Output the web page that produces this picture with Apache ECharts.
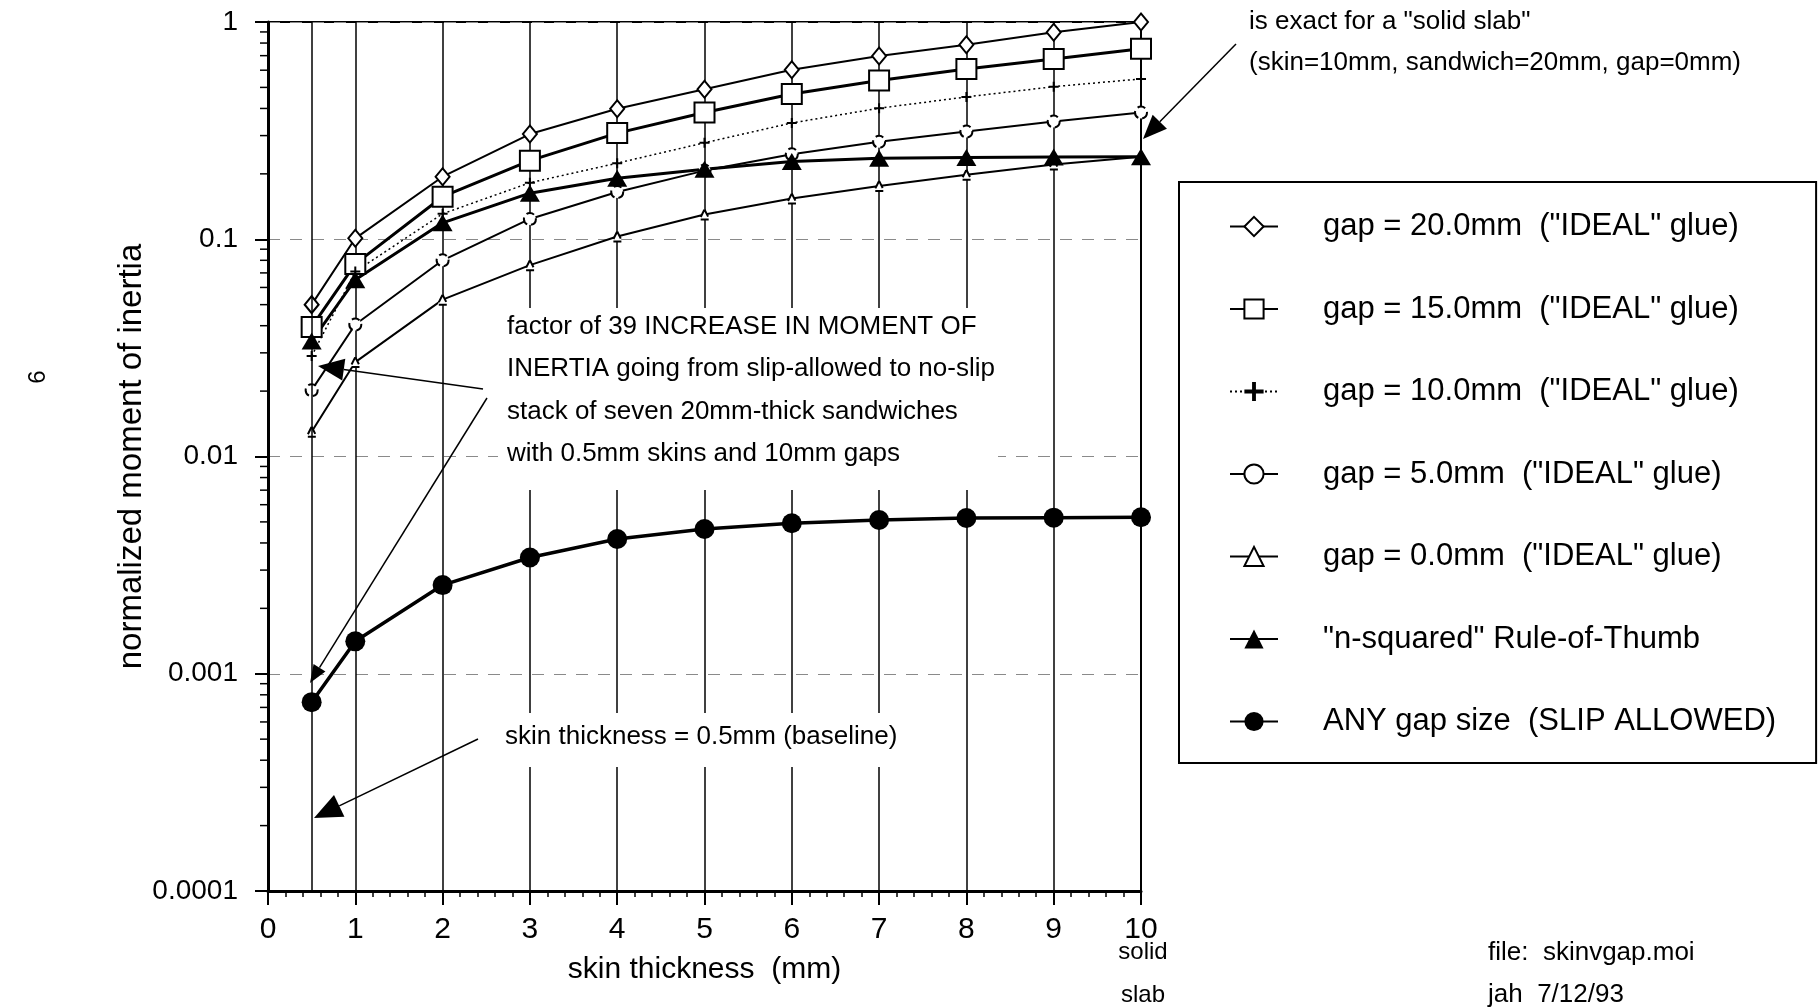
<!DOCTYPE html>
<html>
<head>
<meta charset="utf-8">
<title>skin thickness vs normalized moment of inertia</title>
<script src="https://cdn.jsdelivr.net/npm/echarts@6/dist/echarts.min.js"></script>
<style>
  html, body { margin: 0; padding: 0; background: #fff; }
  #chart { width: 1820px; height: 1007px; }
</style>
</head>
<body>
<div id="chart"></div>
<script>
// skin thickness (mm), 10 = solid slab
const skin = [0.5, 1, 2, 3, 4, 5, 6, 7, 8, 9, 10]

// normalized moment of inertia
const gap20 = [0.050, 0.101, 0.194, 0.305, 0.399, 0.49, 0.603, 0.697, 0.786, 0.897, 1.0]
const gap15 = [0.0395, 0.077, 0.157, 0.230, 0.308, 0.383, 0.466, 0.538, 0.607, 0.676, 0.754]
const gap10 = [0.029, 0.071, 0.131, 0.182, 0.224, 0.278, 0.343, 0.401, 0.452, 0.504, 0.547]
const gap5 = [0.0202, 0.0405, 0.080, 0.124, 0.165, 0.207, 0.246, 0.281, 0.313, 0.348, 0.383]
const gap0 = [0.013, 0.0272, 0.0527, 0.076, 0.103, 0.130, 0.154, 0.176, 0.198, 0.221, 0.240]
const nSquared = [0.0340, 0.0651, 0.119, 0.163, 0.191, 0.210, 0.228, 0.236, 0.238, 0.239, 0.240]
const slipAllowed = [0.00074, 0.00141, 0.00256, 0.00343, 0.00417, 0.00464, 0.00493, 0.0051, 0.00521, 0.00523, 0.00525]

const seriesNames = [
  'gap = 20.0mm  ("IDEAL" glue)',
  'gap = 15.0mm  ("IDEAL" glue)',
  'gap = 10.0mm  ("IDEAL" glue)',
  'gap = 5.0mm  ("IDEAL" glue)',
  'gap = 0.0mm  ("IDEAL" glue)',
  '"n-squared" Rule-of-Thumb',
  'ANY gap size  (SLIP ALLOWED)'
]
const yTickLabels = ['0.0001', '0.001', '0.01', '0.1', '1']

const FONT = '"Liberation Sans", Arial, Helvetica, sans-serif'

function pairs(vals) {
  return skin.map(function(s, i) { return [s, vals[i]] })
}

function arrow(x1, y1, x2, y2, len, half, lw) {
  const a = Math.atan2(y2 - y1, x2 - x1)
  const bx = x2 - len * Math.cos(a)
  const by = y2 - len * Math.sin(a)
  return [
    { type: 'line', z: 10, shape: { x1: x1, y1: y1, x2: bx, y2: by }, style: { stroke: '#000', lineWidth: lw } },
    { type: 'polygon', z: 10, shape: { points: [[x2, y2],
      [bx - half * Math.sin(a), by + half * Math.cos(a)],
      [bx + half * Math.sin(a), by - half * Math.cos(a)]] }, style: { fill: '#000' } }
  ]
}

function note(text, x, y, size, align) {
  return {
    type: 'text', z: 11,
    style: { text: text, x: x, y: y, font: size + 'px ' + FONT, fill: '#000',
      textAlign: align || 'left', textVerticalAlign: 'middle' }
  }
}

const plus = 'path://M4,0H6V4H10V6H6V10H4V6H0V4H4Z'

function lineSeries(name, vals, opts) {
  return Object.assign({
    name: name,
    type: 'line',
    data: pairs(vals),
    color: '#000',
    symbolKeepAspect: true,
    z: 3
  }, opts)
}

const chart = echarts.init(document.getElementById('chart'), null, { renderer: 'canvas' })

chart.setOption({
  animation: false,
  backgroundColor: '#fff',
  textStyle: { fontFamily: FONT, color: '#000' },
  grid: {
    left: 268, right: 679, top: 22, bottom: 116,
    show: true, borderColor: '#000', borderWidth: 2, backgroundColor: 'transparent'
  },
  xAxis: {
    type: 'value', min: 0, max: 10, interval: 1,
    name: 'skin thickness  (mm)', nameLocation: 'middle', nameGap: 64,
    nameTextStyle: { fontSize: 30, color: '#000', fontFamily: FONT },
    axisLine: { lineStyle: { color: '#000', width: 3 } },
    axisTick: { length: 14, lineStyle: { color: '#000', width: 2 } },
    minorTick: { show: true, splitNumber: 5, length: 6, lineStyle: { color: '#000', width: 1.5 } },
    axisLabel: { fontSize: 30, color: '#000', margin: 24, fontFamily: FONT },
    splitLine: { show: true, lineStyle: { color: '#000', width: 1.5 } }
  },
  yAxis: {
    type: 'log', logBase: 10, min: 0.0001, max: 1,
    name: 'normalized moment of inertia', nameLocation: 'middle', nameGap: 118,
    nameTextStyle: { fontSize: 33, color: '#000', fontFamily: FONT },
    axisLine: { lineStyle: { color: '#000', width: 3 } },
    axisTick: { length: 13, lineStyle: { color: '#000', width: 2 } },
    axisLabel: {
      fontSize: 28, color: '#000', margin: 30, fontFamily: FONT,
      formatter: function(v, i) { return yTickLabels[i] }
    },
    splitLine: { show: true, lineStyle: { color: '#8a8a8a', width: 1.2, type: [12, 10] } }
  },
  legend: {
    orient: 'vertical',
    left: 1179, top: 182,
    padding: [29, 40, 26, 50],
    itemWidth: 48, itemHeight: 24, itemGap: 51.5,
    borderColor: '#000', borderWidth: 2,
    selectedMode: false,
    textStyle: { fontSize: 31, color: '#000', fontFamily: FONT, padding: [0, 0, 0, 40] },
    data: seriesNames
  },
  series: [
    lineSeries(seriesNames[0], gap20, {
      symbol: 'emptyDiamond', symbolSize: [14, 17],
      lineStyle: { width: 2 }, itemStyle: { borderWidth: 1.5 },
      markLine: {
        silent: true, symbol: 'none', label: { show: false },
        lineStyle: { color: '#000', width: 1.5, type: 'solid' },
        data: [{ xAxis: skin[0] }]
      }
    }),
    lineSeries(seriesNames[1], gap15, {
      symbol: 'emptyRect', symbolSize: 20,
      lineStyle: { width: 3 }, itemStyle: { borderWidth: 2 }
    }),
    lineSeries(seriesNames[2], gap10, {
      symbol: plus, symbolSize: 10,
      lineStyle: { width: 1.5, type: [2, 3] }
    }),
    lineSeries(seriesNames[3], gap5, {
      symbol: 'emptyCircle', symbolSize: 12,
      lineStyle: { width: 2 }, itemStyle: { borderWidth: 1.2, borderType: 'dashed' }
    }),
    lineSeries(seriesNames[4], gap0, {
      symbol: 'emptyTriangle', symbolSize: 10,
      lineStyle: { width: 2 }, itemStyle: { borderWidth: 1.2, borderType: 'dashed' }
    }),
    lineSeries(seriesNames[5], nSquared, {
      symbol: 'triangle', symbolSize: [20, 17],
      lineStyle: { width: 3 }
    }),
    lineSeries(seriesNames[6], slipAllowed, {
      symbol: 'circle', symbolSize: 20,
      lineStyle: { width: 3.5 }
    })
  ]
})

// log minor ticks (2..9 in each decade), placed through the y axis scale
const axisX = chart.convertToPixel({ xAxisIndex: 0 }, 0)
const minorTicks = []
for (let d = -4; d < 0; d++) {
  for (let k = 2; k <= 9; k++) {
    const py = chart.convertToPixel({ yAxisIndex: 0 }, k * Math.pow(10, d))
    minorTicks.push({ type: 'line', z: 5, shape: { x1: axisX - 8, y1: py, x2: axisX, y2: py },
      style: { stroke: '#000', lineWidth: 1.5 } })
  }
}

chart.setOption({
  graphic: {
    elements: [
      // white blocks behind the notes break the grid lines, as in the original
      { type: 'rect', z: 1, shape: { x: 498, y: 308, width: 500, height: 182 }, style: { fill: '#fff' } },
      { type: 'rect', z: 1, shape: { x: 498, y: 713, width: 412, height: 54 }, style: { fill: '#fff' } },
      note('factor of 39 INCREASE IN MOMENT OF', 507, 327, 26),
      note('INERTIA going from slip-allowed to no-slip', 507, 369, 26),
      note('stack of seven 20mm-thick sandwiches', 507, 412, 26),
      note('with 0.5mm skins and 10mm gaps', 507, 454, 26),
      note('skin thickness = 0.5mm (baseline)', 505, 737, 26),
      note('is exact for a "solid slab"', 1249, 22, 26),
      note('(skin=10mm, sandwich=20mm, gap=0mm)', 1249, 63, 26),
      note('solid', 1143, 952, 24, 'center'),
      note('slab', 1143, 995, 24, 'center'),
      note('file:  skinvgap.moi', 1488, 953, 26),
      note('jah  7/12/93', 1488, 995, 26),
      {
        type: 'text', z: 11, x: 38, y: 377, rotation: Math.PI / 2,
        style: { text: '6', x: 0, y: 0, font: '24px ' + FONT, fill: '#000', textAlign: 'center', textVerticalAlign: 'middle' }
      }
    ]
      .concat(arrow(1236, 44, 1143, 139, 24, 10, 1.5))
      .concat(arrow(483, 389, 318, 366, 26, 11, 1.5))
      .concat(arrow(487, 398, 310, 683, 18, 7, 1.5))
      .concat(arrow(478, 739, 314, 818, 28, 12, 1.5))
      .concat(minorTicks)
  }
})
</script>
</body>
</html>
